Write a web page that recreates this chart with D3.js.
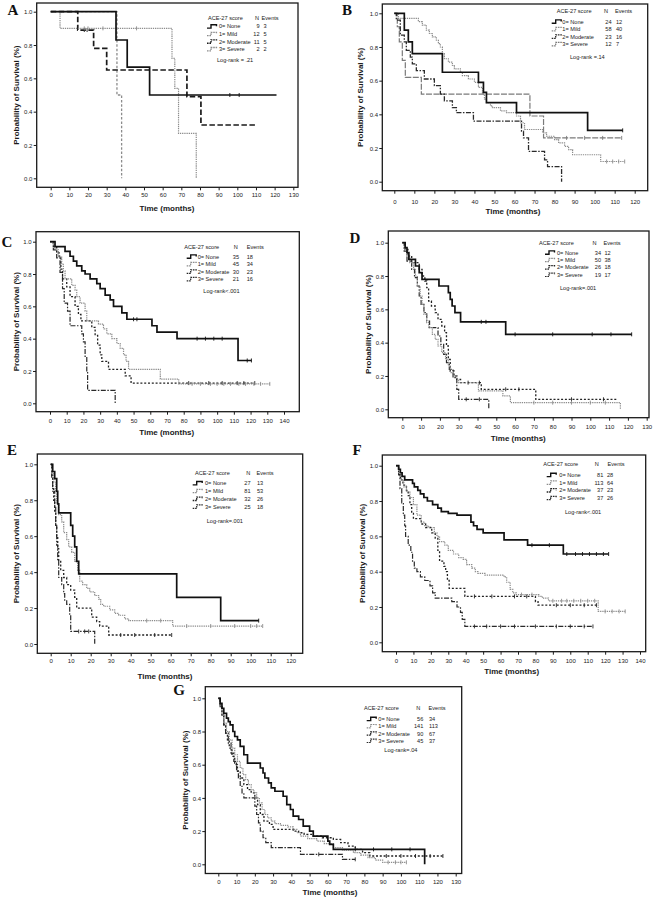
<!DOCTYPE html>
<html><head><meta charset="utf-8">
<script src="https://cdn.jsdelivr.net/npm/d3@7"></script>
<style>body{margin:0;background:#fff} svg{display:block}</style>
</head><body><svg id="c" width="655" height="900"></svg>
<script>
// ---------- shared ----------
const groupLabels = ["0= None", "1= Mild", "2= Moderate", "3= Severe"];
const yTicks = [0, 0.2, 0.4, 0.6, 0.8, 1.0];

// ---------- Panel A ----------
const A_N = [9, 12, 11, 2];
const A_events = [3, 5, 5, 2];
const A_logrank = "Log-rank = .21";
const A_xmax = 130;
const A_none = [[0,1],[35,0.83],[41,0.667],[53,0.5],[121,0.5]];
const A_mild = [[0,1],[5,0.9],[65,0.72],[66.5,0.54],[68.5,0.27],[78,0]];
const A_moderate = [[0,1],[14.5,0.89],[23,0.78],[30,0.65],[73,0.49],[80.5,0.32],[110,0.32]];
const A_severe = [[0,1],[35.5,0.5],[38,0]];
const A_censor = [[96,101],[18,20,28,46],[18,19.5],[]];

// ---------- Panel B ----------
const B_N = [24, 58, 23, 12];
const B_events = [12, 40, 16, 7];
const B_logrank = "Log-rank =.14";
const B_xmax = 120;
const B_none = [[0,1],[5,0.9],[7,0.83],[9,0.76],[24,0.65],[42,0.59],[44.5,0.53],[46,0.47],[61,0.41],[96.5,0.305],[114,0.305]];
const B_mild = [[0,1],[2,0.97],[12,0.95],[14,0.93],[16,0.9],[17.5,0.88],[19,0.86],[21,0.84],[22,0.82],[23,0.8],[24,0.76],[25,0.73],[27,0.71],[29,0.69],[30,0.67],[33,0.65],[34,0.63],[37,0.61],[40,0.59],[42,0.56],[44,0.52],[45,0.49],[46,0.47],[48,0.45],[49,0.44],[53,0.42],[56,0.41],[61,0.39],[63,0.35],[65,0.31],[74,0.29],[76,0.27],[80,0.25],[82,0.23],[85,0.21],[87,0.19],[89,0.16],[103,0.12],[115,0.12]];
const B_moderate = [[0,1],[1,0.96],[3,0.87],[5,0.83],[6,0.78],[8,0.74],[9,0.7],[11,0.66],[15,0.61],[20,0.57],[23,0.52],[25,0.48],[29,0.44],[31,0.41],[39.5,0.36],[63.5,0.3],[64.5,0.26],[67,0.18],[75,0.13],[76.5,0.09],[83.5,0]];
const B_severe = [[0,1],[1.5,0.92],[2.5,0.83],[4,0.72],[5.5,0.62],[13.5,0.52],[67.7,0.39],[74.5,0.26],[113.5,0.26]];
const B_censor = [[114],[106,109,112,115],[],[86,95,104,113.5]];

// ---------- Panel C ----------
const C_N = [35, 45, 30, 21];
const C_events = [18, 34, 23, 16];
const C_logrank = "Log-rank<.001";
const C_xmax = 140;
const C_none = [[0,1],[3,0.97],[9,0.94],[12,0.91],[14,0.88],[16,0.85],[19,0.82],[21,0.8],[24,0.77],[28,0.74],[30,0.71],[33,0.67],[36,0.64],[38,0.6],[43,0.56],[46,0.52],[61,0.48],[64,0.44],[76,0.4],[112.5,0.265],[120.5,0.265]];
const C_mild = [[0,1],[2,0.98],[3,0.95],[5,0.91],[7,0.86],[8,0.82],[9,0.77],[13,0.73],[15,0.7],[16,0.66],[18,0.62],[21,0.57],[22,0.51],[29,0.49],[32,0.46],[34,0.43],[37,0.4],[40,0.37],[42,0.34],[44,0.3],[45.5,0.26],[47,0.21],[66,0.15],[77,0.12],[131.5,0.12]];
const C_moderate = [[0,1],[2,0.97],[4,0.93],[5.5,0.9],[6.5,0.83],[7.5,0.77],[10,0.72],[12,0.66],[15,0.6],[17,0.55],[18.5,0.51],[25,0.47],[27,0.42],[28.5,0.36],[30,0.3],[31,0.26],[35,0.21],[45,0.17],[48.5,0.125],[122.5,0.125]];
const C_severe = [[0,1],[2,0.95],[4,0.9],[6,0.81],[7.5,0.71],[8.5,0.62],[10.5,0.57],[12,0.48],[19,0.43],[20,0.38],[21,0.29],[22,0.19],[22.5,0.08],[39,0]];
const C_censor = [[50,52,88,93,98,103,118,120.5],[85,90,96,100,104,108,113,117,122,126,131.5],[83,95,103,112,116,122.5],[]];

// ---------- Panel D ----------
const D_N = [34, 50, 26, 19];
const D_events = [12, 38, 18, 17];
const D_logrank = "Log-rank=.001";
const D_xmax = 130;
const D_none = [[0,1],[1.5,0.97],[2.5,0.94],[3.5,0.9],[7,0.86],[9,0.82],[10.5,0.78],[19.5,0.74],[24.5,0.7],[25.5,0.66],[26.5,0.62],[28,0.58],[31,0.525],[55,0.45],[122,0.45]];
const D_mild = [[0,1],[1,0.96],[2.3,0.92],[4,0.88],[6,0.84],[7,0.8],[8,0.74],[9.5,0.68],[10.5,0.63],[11.5,0.57],[13,0.52],[14,0.49],[16,0.45],[17.5,0.42],[19,0.38],[21,0.34],[23,0.3],[24.5,0.26],[25.5,0.22],[27,0.2],[29,0.18],[30,0.16],[40.5,0.11],[53.5,0.08],[57.5,0.04],[116,0]];
const D_moderate = [[0,1],[1.5,0.96],[3,0.92],[5,0.88],[9,0.84],[10.5,0.8],[12,0.77],[13,0.73],[14,0.65],[15.5,0.62],[17.5,0.58],[19,0.54],[21,0.5],[22.5,0.46],[23.5,0.38],[24.5,0.3],[25.5,0.23],[27.5,0.2],[29,0.18],[31,0.16],[42,0.12],[71,0.06],[114,0.06]];
const D_severe = [[0,1],[1,0.95],[2.5,0.89],[5,0.84],[6.5,0.79],[8,0.74],[9,0.68],[10,0.63],[11.5,0.58],[13,0.53],[14.5,0.49],[19,0.44],[20.5,0.39],[22,0.33],[23.5,0.28],[25,0.24],[27,0.19],[29,0.12],[30,0.06],[46,0]];
const D_censor = [[42,44.5,60,80,101,111,122],[70,80,90,100,108],[35,41,55,62,90,107],[34,41]];

// ---------- Panel E ----------
const E_N = [27, 81, 32, 25];
const E_events = [13, 53, 26, 18];
const E_logrank = "Log-rank=.001";
const E_xmax = 120;
const E_none = [[0,1],[1,0.96],[2,0.92],[3,0.85],[3.5,0.78],[4,0.73],[10,0.66],[11,0.6],[12,0.54],[13,0.46],[14,0.39],[63,0.26],[85,0.13],[104,0.13]];
const E_mild = [[0,1],[0.5,0.95],[1.5,0.9],[2.5,0.85],[3,0.78],[4,0.72],[5.5,0.68],[6.5,0.62],[8,0.58],[9,0.54],[10.5,0.51],[12,0.46],[13.5,0.41],[14.5,0.35],[16,0.33],[18,0.31],[19.5,0.29],[22,0.27],[24,0.25],[25,0.22],[26.5,0.21],[29.5,0.19],[32,0.17],[34,0.16],[37,0.14],[39,0.13],[61,0.1],[106,0.1]];
const E_moderate = [[0,1],[0.5,0.94],[1,0.87],[1.5,0.8],[2,0.73],[2.5,0.66],[3,0.6],[3.5,0.53],[4,0.46],[5,0.41],[6.5,0.37],[8,0.33],[10,0.3],[12,0.26],[13,0.2],[20.5,0.15],[23,0.125],[24.5,0.1],[29,0.05],[60.5,0.05]];
const E_severe = [[0,1],[0.5,0.92],[1,0.85],[2,0.77],[2.5,0.66],[3,0.55],[3.5,0.46],[4,0.37],[5.5,0.33],[6.5,0.28],[7,0.24],[8,0.22],[9.5,0.16],[10,0.07],[22,0]];
const E_censor = [[104],[48,55,68,80,92,100,103,106],[35,42,52,60.5],[14,17,19]];

// ---------- Panel F ----------
const F_N = [81, 113, 37, 37];
const F_events = [28, 64, 23, 26];
const F_logrank = "Log-rank<.001";
const F_xmax = 140;
const F_none = [[0,1],[1.5,0.98],[2.5,0.96],[3.5,0.94],[5,0.92],[9.5,0.9],[10.5,0.88],[12.5,0.86],[14,0.84],[16,0.82],[18,0.8],[21,0.78],[24,0.76],[26,0.74],[30,0.73],[35,0.72],[43,0.68],[44.5,0.66],[46.5,0.64],[50,0.62],[62,0.58],[75.5,0.55],[96,0.5],[122,0.5]];
const F_mild = [[0,1],[1.5,0.96],[3,0.92],[4.5,0.88],[6,0.85],[8,0.82],[10,0.78],[12,0.72],[14.5,0.68],[16.5,0.66],[18.5,0.65],[22,0.62],[23.5,0.6],[25,0.57],[28,0.55],[30,0.52],[33,0.5],[36,0.48],[38.5,0.47],[40.5,0.44],[43.5,0.42],[45.5,0.4],[47,0.39],[51,0.38],[62,0.37],[63.5,0.34],[65.5,0.3],[67,0.28],[69,0.27],[82,0.26],[84,0.25],[87.5,0.235],[116,0.175],[131.5,0.175]];
const F_moderate = [[0,1],[1.5,0.95],[2.5,0.92],[4,0.89],[6,0.86],[7,0.83],[8,0.78],[9,0.73],[10,0.7],[14.5,0.67],[17,0.65],[20.5,0.62],[22.5,0.59],[24,0.52],[25,0.46],[27.5,0.43],[28.5,0.4],[29.5,0.35],[30.5,0.305],[39.5,0.26],[80,0.23],[81.5,0.21],[115,0.21]];
const F_severe = [[0,1],[1.5,0.95],[2.3,0.87],[3.3,0.79],[4.2,0.72],[5,0.66],[5.5,0.6],[7,0.55],[8.5,0.51],[9.5,0.46],[10.5,0.42],[12,0.4],[14,0.37],[16.5,0.35],[19.5,0.32],[21,0.28],[22.5,0.25],[32,0.23],[35,0.2],[37,0.17],[38,0.13],[39.5,0.09],[113,0.09]];
const F_censor = [[78,88,98,103,107,111,115,119,122],[72,78,90,95,98,102,106,110,114,120,124,128,131.5],[45,55,68,75,92,100,108,115],[45,52,60,68,80,92,100,108,113]];

// ---------- Panel G ----------
const G_N = [56, 141, 90, 45];
const G_events = [34, 113, 67, 37];
const G_logrank = "Log-rank=.04";
const G_xmax = 130;
const G_none = [[0,1],[1,0.97],[2,0.94],[3,0.91],[4.5,0.88],[5.5,0.86],[6.5,0.84],[8,0.8],[9,0.77],[10.5,0.75],[12,0.71],[14,0.66],[16,0.61],[23,0.58],[24.5,0.55],[25.5,0.52],[27.5,0.49],[29,0.46],[31,0.44],[35.5,0.41],[37.5,0.36],[39.5,0.33],[41,0.29],[44,0.27],[46.5,0.23],[50,0.2],[52,0.17],[60,0.14],[61,0.12],[63,0.09],[113,0]];
const G_mild = [[0,1],[1,0.95],[2,0.9],[3,0.85],[4.5,0.8],[6,0.75],[7.5,0.7],[9,0.66],[10.5,0.62],[12,0.58],[13.5,0.54],[15,0.51],[16.5,0.48],[18,0.45],[19.5,0.43],[21,0.4],[22.5,0.37],[24,0.33],[25.5,0.3],[27,0.28],[29,0.26],[31,0.245],[34,0.235],[38,0.225],[41,0.21],[43,0.19],[45,0.17],[49,0.155],[54,0.14],[58,0.125],[63,0.1],[68,0.085],[74,0.07],[78,0.055],[82,0.04],[86,0.025],[90,0.012],[103,0.012]];
const G_moderate = [[0,1],[1,0.95],[2,0.9],[3,0.84],[4,0.79],[5,0.75],[6,0.7],[7.5,0.65],[9,0.6],[10.5,0.56],[12,0.52],[14,0.48],[16,0.45],[18,0.43],[20,0.4],[21.5,0.36],[23,0.3],[25,0.26],[28,0.24],[30,0.21],[41,0.2],[44,0.19],[47,0.18],[52,0.17],[57,0.16],[63,0.15],[67,0.13],[71,0.11],[75,0.09],[79,0.07],[83,0.05],[123,0.05]];
const G_severe = [[0,1],[1,0.95],[2,0.9],[3,0.84],[4,0.79],[5.5,0.73],[7,0.67],[8.5,0.62],[10,0.57],[11,0.52],[12,0.47],[13,0.43],[14,0.4],[20,0.35],[21,0.3],[22,0.25],[23,0.2],[24.5,0.16],[26,0.13],[29,0.1],[45,0.06],[68,0.03],[75,0.03]];
const G_censor = [[75,85,95,105],[93,97,100,103],[92,100,108,116,123],[55,75]];

// ---------- styles (presentation) ----------
const solid = {c:"#111", w:1.7, d:null};
const greyDot = {c:"#8c8c8c", w:1.2, d:"1.3,0.9"};
const stylesA = [solid, greyDot, {c:"#1a1a1a", w:1.7, d:"5.5,2.5"}, {c:"#8c8c8c", w:1.3, d:"2.5,1.8"}];
const stylesB = [solid, greyDot, {c:"#2a2a2a", w:1.3, d:"5,1.5,1.5,1.5"}, {c:"#7a7a7a", w:1.2, d:"6,1.5"}];
const stylesCG = [solid, greyDot, {c:"#222", w:1.3, d:"2,1.8"}, {c:"#2a2a2a", w:1.2, d:"5,1.5,1.5,1.5"}];

const layouts = {
  A:{L:36.7,R:298,T:3,B:187.3,x0:50.7,x1:293.3,y1:11.7,y0:178.3,xlabY:195,xtitY:208,xtitX:167,ytitX:16,lx:13,ly:9.5,
     hx:208,hy:17.7,nHdr:257,nRight:259.5,evHdr:261.5,evX:263.5,gx:207,labX:219,ry0:26.5,dy:7.6,lrx:217,lry:60},
  B:{L:382.3,R:647.7,T:4,B:190.7,x0:394.3,x1:634.7,y1:13.3,y0:181.7,xlabY:201.5,xtitY:210.7,xtitX:513,ytitX:360,lx:347,ly:9.5,
     hx:556.7,hy:11,nHdr:606,nRight:611.5,evHdr:615,evX:616,gx:551.7,labX:562.3,ry0:21.7,dy:7.5,lrx:570,lry:56.7},
  C:{L:36,R:299.3,T:231.7,B:411.7,x0:50,x1:284,y1:241.7,y0:403.3,xlabY:420.7,xtitY:431.7,xtitX:166.7,ytitX:16,lx:7,ly:241.7,
     hx:184.3,hy:247.3,nHdr:235.7,nRight:239,evHdr:246.7,evX:246.7,gx:186.7,labX:197.7,ry0:256.7,dy:7.5,lrx:203.3,lry:291},
  D:{L:388.3,R:649,T:231,B:417.7,x0:402.3,x1:646.7,y1:242.7,y0:409.3,xlabY:427.3,xtitY:437.7,xtitX:518.3,ytitX:368.3,lx:355,ly:238,
     hx:539,hy:243.3,nHdr:594.5,nRight:601,evHdr:603.5,evX:604.5,gx:545,labX:557,ry0:252.7,dy:7.4,lrx:560,lry:288},
  E:{L:37.3,R:302.7,T:454,B:653.3,x0:50.7,x1:290.7,y1:464.3,y0:644,xlabY:660.7,xtitY:676,xtitX:165,ytitX:16,lx:12,ly:450,
     hx:195,hy:472.7,nHdr:248.3,nRight:250.5,evHdr:256.5,evX:257,gx:192.7,labX:205,ry0:483.3,dy:7.8,lrx:206.7,lry:520.7},
  F:{L:382.3,R:645.7,T:455,B:651.7,x0:396,x1:640,y1:465.7,y0:642.3,xlabY:660.7,xtitY:670.7,xtitX:511.7,ytitX:361.7,lx:357,ly:450,
     hx:543.3,hy:464,nHdr:596.7,nRight:603.3,evHdr:607.5,evX:607,gx:546.7,labX:559.3,ry0:475,dy:7.7,lrx:565,lry:511.7},
  G:{L:205.3,R:461.7,T:686.7,B:873.5,x0:218.3,x1:455.7,y1:698.3,y0:864.3,xlabY:881.7,xtitY:892.3,xtitX:330,ytitX:185,lx:179,ly:690,
     hx:364,hy:708.3,nHdr:418.3,nRight:423.3,evHdr:428.5,evX:429,gx:366.7,labX:378.3,ry0:719,dy:7.3,lrx:384.3,lry:750}
};

const svg = d3.select("#c");
const SANS = "'Liberation Sans', Arial, sans-serif";
const INK = "#1a1a1a";
const LEGF = 5.6;

function survAt(curve, t) {
  let s = 1;
  for (const p of curve) { if (p[0] <= t) s = p[1]; else break; }
  return s;
}

function text(g, x, y, str, size, anchor) {
  return g.append("text").attr("x", x).attr("y", y).attr("dy", "0.35em")
    .attr("text-anchor", anchor || "start").attr("font-family", SANS)
    .attr("font-size", size).attr("fill", INK).text(str);
}

function drawPanel(letter, curves, censors, N, events, logrank, styles, xmax) {
  const L = layouts[letter];
  const g = svg.append("g");
  const x = d3.scaleLinear().domain([0, xmax]).range([L.x0, L.x1]);
  const y = d3.scaleLinear().domain([0, 1]).range([L.y0, L.y1]);

  // frame
  g.append("rect").attr("x", L.L).attr("y", L.T).attr("width", L.R - L.L).attr("height", L.B - L.T)
    .attr("fill", "none").attr("stroke", INK).attr("stroke-width", 1.3);

  // x axis
  const xAxis = d3.axisBottom(x).tickValues(d3.range(0, xmax + 1, 10)).tickSize(3).tickFormat(d3.format("d"));
  const gxA = g.append("g").attr("transform", `translate(0,${L.B})`).call(xAxis);
  gxA.select(".domain").remove();
  gxA.selectAll("line").attr("stroke", INK).attr("stroke-width", 1);
  gxA.selectAll("text").attr("y", L.xlabY - L.B).attr("dy", "0.35em")
    .attr("font-family", SANS).attr("font-size", 6).attr("fill", INK);

  // y axis
  const yAxis = d3.axisLeft(y).tickValues(yTicks).tickSize(3).tickFormat(d3.format(".1f"));
  const gyA = g.append("g").attr("transform", `translate(${L.L},0)`).call(yAxis);
  gyA.select(".domain").remove();
  gyA.selectAll("line").attr("stroke", INK).attr("stroke-width", 1);
  gyA.selectAll("text").attr("x", -4.3).attr("dy", "0.35em")
    .attr("font-family", SANS).attr("font-size", 6).attr("fill", INK);

  // titles
  text(g, L.xtitX, L.xtitY, "Time (months)", 8, "middle").attr("font-weight", "bold");
  g.append("text").attr("transform", `translate(${L.ytitX},${(L.T + L.B) / 2}) rotate(-90)`)
    .attr("dy", "0.35em").attr("text-anchor", "middle").attr("font-family", SANS)
    .attr("font-size", 8).attr("font-weight", "bold").attr("fill", INK).text("Probability of Survival (%)");
  g.append("text").attr("x", L.lx).attr("y", L.ly).attr("dy", "0.36em").attr("text-anchor", "middle")
    .attr("font-family", "'Liberation Serif', 'Times New Roman', serif").attr("font-size", 15)
    .attr("font-weight", "bold").attr("fill", "#111").text(letter);

  // curves
  const line = d3.line().x(d => x(d[0])).y(d => y(d[1])).curve(d3.curveStepAfter);
  const order = [3, 2, 1, 0];
  order.forEach(i => {
    const st = styles[i];
    g.append("path").datum(curves[i]).attr("d", line).attr("fill", "none")
      .attr("stroke", st.c).attr("stroke-width", st.w).attr("stroke-dasharray", st.d);
    g.selectAll(null).data(censors[i]).enter().append("line")
      .attr("x1", t => x(t)).attr("x2", t => x(t))
      .attr("y1", t => y(survAt(curves[i], t)) - 2).attr("y2", t => y(survAt(curves[i], t)) + 2)
      .attr("stroke", st.c).attr("stroke-width", 0.9);
  });

  // legend
  const lg = g.append("g");
  text(lg, L.hx, L.hy, "ACE-27 score", LEGF);
  text(lg, L.nHdr, L.hy, "N", LEGF, "middle");
  text(lg, L.evHdr, L.hy, "Events", LEGF);
  groupLabels.forEach((lab, i) => {
    const ry = L.ry0 + i * L.dy;
    const st = styles[i];
    lg.append("path")
      .attr("d", `M${L.gx},${ry + 1.6}H${L.gx + 4}V${ry - 1.8}H${L.gx + 9.5}V${ry - 0.2}`)
      .attr("fill", "none").attr("stroke", st.c).attr("stroke-width", Math.min(st.w, 1.4))
      .attr("stroke-dasharray", st.d ? "1.6,0.8" : null);
    text(lg, L.labX, ry, lab, LEGF);
    text(lg, L.nRight, ry, String(N[i]), LEGF, "end");
    text(lg, L.evX, ry, String(events[i]), LEGF);
  });
  text(lg, L.lrx, L.lry, logrank, LEGF);
}

drawPanel("A", [A_none, A_mild, A_moderate, A_severe], A_censor, A_N, A_events, A_logrank, stylesA, A_xmax);
drawPanel("B", [B_none, B_mild, B_moderate, B_severe], B_censor, B_N, B_events, B_logrank, stylesB, B_xmax);
drawPanel("C", [C_none, C_mild, C_moderate, C_severe], C_censor, C_N, C_events, C_logrank, stylesCG, C_xmax);
drawPanel("D", [D_none, D_mild, D_moderate, D_severe], D_censor, D_N, D_events, D_logrank, stylesCG, D_xmax);
drawPanel("E", [E_none, E_mild, E_moderate, E_severe], E_censor, E_N, E_events, E_logrank, stylesCG, E_xmax);
drawPanel("F", [F_none, F_mild, F_moderate, F_severe], F_censor, F_N, F_events, F_logrank, stylesCG, F_xmax);
drawPanel("G", [G_none, G_mild, G_moderate, G_severe], G_censor, G_N, G_events, G_logrank, stylesCG, G_xmax);
</script></body></html>
